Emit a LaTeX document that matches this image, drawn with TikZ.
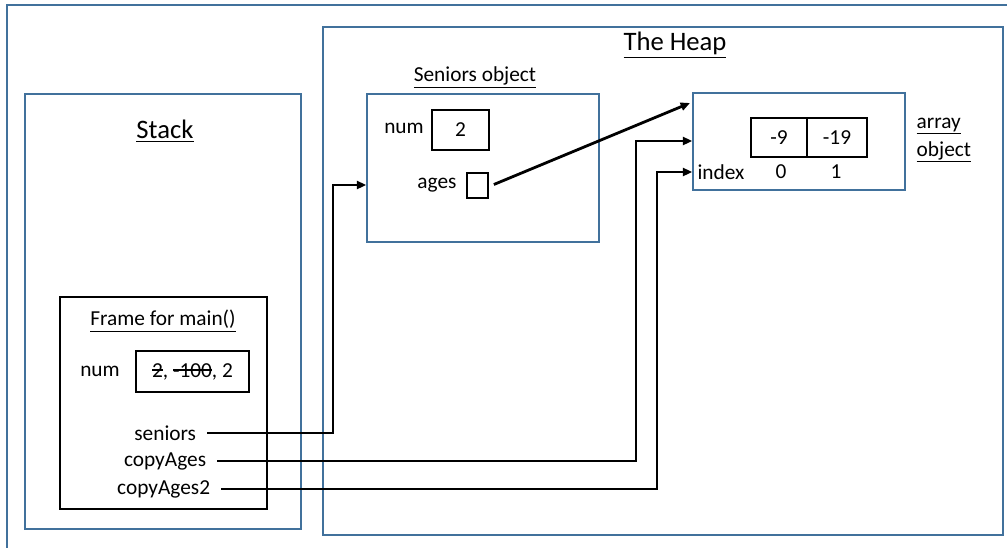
\documentclass[tikz,border=0pt]{standalone}
\usepackage{fontspec}
\setmainfont{Carlito}
\usetikzlibrary{fit,arrows.meta,positioning}
\definecolor{frameblue}{HTML}{41719C}
\newcommand{\strk}[1]{\setbox0\hbox{#1}\rlap{\rule[0.3em]{\wd0}{0.07em}}\box0}

\begin{document}
\begin{tikzpicture}[x=0.75pt,y=-0.75pt,
    region/.style={draw=frameblue, line width=1.2pt, inner sep=0pt},
    cell/.style={draw=black, line width=1.3pt, inner sep=0pt,
                 label={[lbl]center:#1}},
    cell/.default={},
    lbl/.style={font=\fontsize{16}{19}\selectfont},
    title/.style={font=\fontsize{20}{24}\selectfont},
    varname/.style={lbl, anchor=east, inner xsep=8pt},
    ref/.style={line width=2.1pt, -{Triangle[length=7pt,width=6pt]}},
  ]
  \useasboundingbox (0,0) rectangle (1007,547);
  \draw[frameblue, line width=1.2pt] (7,5) rectangle (1015,555);

  % stack side
  \node[region, fit={(25,94) (301,529)}] (stack) {};
  \node[title] (stackTitle) at (165,131) {\underline{Stack}};
  \node[cell, fit={(60,297) (267,509)}] (frame) {};
  \node[lbl] (frameTitle) at (163,321) {\underline{Frame for main()}};
  \node[lbl] (numLbl) at (100,371) {num};
  \node[cell={\strk{2}, \strk{-100}, 2}, fit={(136,351) (249,392)}] (numBox) {};
  \node[varname] (seniorsLbl) at (207,433) {seniors};
  \node[varname] (copyLbl) at (217,461) {copyAges};
  \node[varname] (copy2Lbl) at (221,489) {copyAges2};

  % heap side
  \node[region, fit={(323,27) (1003,535)}] (heap) {};
  \node[title] (heapTitle) at (675,45) {\underline{The Heap}};

  \node[lbl] (seniorsTitle) at (475,77) {\underline{Seniors object}};
  \node[region, fit={(367,94) (599,242)}] (seniorsObj) {};
  \node[lbl] (sNumLbl) at (404,128) {num};
  \node[cell=2, fit={(432,110) (489,150)}] (sNumBox) {};
  \node[lbl] (agesLbl) at (437,185) {ages};
  \node[cell, fit={(467,173) (488,198)}] (agesBox) {};

  \node[region, fit={(693,93) (905,190)}] (arrayObj) {};
  \node[cell=-9, fit={(751,118) (807,157)}] (cell0) {};
  \node[cell=-19, fit={(807,118) (867,157)}] (cell1) {};
  \node[lbl] (indexLbl) at (721,172) {index};
  \node[lbl] (idx0) at (781,172) {0};
  \node[lbl] (idx1) at (836,172) {1};
  \node[lbl, align=left, anchor=west] (arrayTitle) at (912,140)
    {\underline{array}\\[2pt]\underline{object}};

  % references
  \coordinate (agesHit) at (690,103);
  \draw[ref] (agesBox.east) ++(5,-1) -- (agesHit);
  \draw[ref] (seniorsLbl.east) -| (333,185) -- (seniorsObj.west |- agesLbl);
  \draw[ref] (copyLbl.east) -| (636,141) -- (arrayObj.west |- 0,141);
  \draw[ref] (copy2Lbl.east) -| (657,172) -- (arrayObj.west |- indexLbl);
\end{tikzpicture}
\end{document}
